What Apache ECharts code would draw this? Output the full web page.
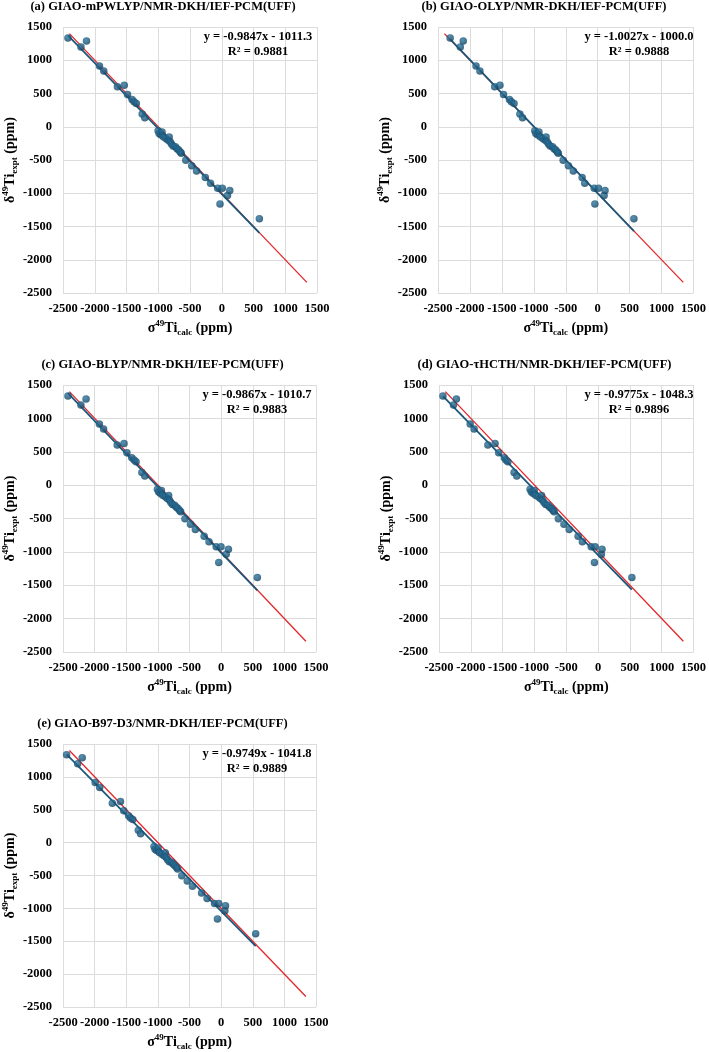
<!DOCTYPE html>
<html>
<head>
<meta charset="utf-8">
<script src="https://cdn.jsdelivr.net/npm/echarts@6/dist/echarts.min.js"></script>
<style>
  html, body { margin: 0; padding: 0; background: #fff; }
  #chart { width: 709px; height: 1052px; }
</style>
</head>
<body>
<div id="chart"></div>
<script>
// experimental 49Ti shifts, same compounds in every panel
const deltaExpt = [1335, 1200, 1290, 915, 840, 600, 625, 485, 410, 375, 350, 190, 135,
  -60, -100, -120, -80, -150, -175, -200, -155, -225, -260, -290, -300, -330, -350, -380, -400,
  -505, -585, -665, -765, -850, -925, -925, -1160, -1035, -960, -1385];

// calculated shieldings per method
const sigmaA = [-2423, -2218, -2131, -1926, -1859, -1644, -1536, -1485, -1413, -1382, -1346, -1254, -1213,
  -1003, -987, -962, -941, -921, -880, -849, -828, -813, -792, -767, -731, -705, -679, -654, -638,
  -567, -474, -397, -259, -177, -64, 8, -28, 90, 126, 592];
const sigmaB = [-2310, -2151, -2105, -1905, -1844, -1613, -1531, -1474, -1382, -1351, -1310, -1218, -1177,
  -985, -968, -943, -920, -900, -860, -828, -808, -792, -770, -745, -708, -683, -657, -632, -616,
  -541, -459, -382, -244, -203, -54, 13, -44, 100, 115, 567];
const sigmaC = [-2423, -2218, -2136, -1926, -1859, -1644, -1536, -1490, -1413, -1377, -1346, -1254, -1208,
  -1008, -990, -965, -945, -925, -884, -852, -830, -816, -795, -770, -735, -708, -683, -657, -640,
  -572, -485, -408, -269, -192, -79, -3, -38, 79, 115, 572];
const sigmaD = [-2438, -2273, -2227, -2010, -1948, -1732, -1619, -1562, -1474, -1448, -1418, -1320, -1278,
  -1068, -1050, -1025, -1004, -983, -940, -908, -888, -872, -850, -823, -786, -760, -733, -707, -690,
  -624, -536, -454, -314, -247, -108, -46, -57, 52, 62, 531];
const sigmaE = [-2444, -2269, -2197, -1992, -1921, -1721, -1592, -1541, -1464, -1433, -1397, -1310, -1274,
  -1062, -1045, -1020, -998, -978, -936, -904, -884, -868, -846, -820, -783, -757, -730, -705, -688,
  -623, -536, -454, -310, -223, -105, -38, -59, 59, 69, 546];

const panelTitles = [
  "(a) GIAO-mPWLYP/NMR-DKH/IEF-PCM(UFF)",
  "(b) GIAO-OLYP/NMR-DKH/IEF-PCM(UFF)",
  "(c) GIAO-BLYP/NMR-DKH/IEF-PCM(UFF)",
  "(d) GIAO-τHCTH/NMR-DKH/IEF-PCM(UFF)",
  "(e) GIAO-B97-D3/NMR-DKH/IEF-PCM(UFF)"
];
const fitSlope = [-0.9847, -1.0027, -0.9867, -0.9775, -0.9749];
const fitIntercept = [-1011.3, -1000.0, -1010.7, -1048.3, -1041.8];
const fitR2 = ["0.9881", "0.9888", "0.9883", "0.9896", "0.9889"];

// ideal line y = -x - 1000
const refRange = [-2400, 1340];

const sigmaAll = [sigmaA, sigmaB, sigmaC, sigmaD, sigmaE];

const layout = [
  { left: 57, top: 27, width: 260, height: 266 },
  { left: 438, top: 27, width: 260, height: 266 },
  { left: 57, top: 385, width: 259, height: 267 },
  { left: 439, top: 385, width: 259, height: 267 },
  { left: 57, top: 744, width: 259, height: 267 }
];

const serif = '"Liberation Serif", "Times New Roman", serif';
const gridColor = "#dcdcdc";
const lineBlue = "#1a577a";

const nameRich = {
  m: { fontSize: 14, fontWeight: "bold", fontFamily: serif, color: "#000", lineHeight: 18 },
  sup: { fontSize: 9, fontWeight: "bold", fontFamily: serif, color: "#000", verticalAlign: "top", lineHeight: 12 },
  sub: { fontSize: 9, fontWeight: "bold", fontFamily: serif, color: "#000", verticalAlign: "bottom", lineHeight: 10 }
};

const chart = echarts.init(document.getElementById("chart"));

const grid = [], xAxis = [], yAxis = [], series = [], graphic = [];

layout.forEach((g, i) => {
  grid.push({ left: g.left, top: g.top, width: g.width, height: g.height });

  const axisCommon = {
    gridIndex: i,
    type: "value",
    min: -2500,
    max: 1500,
    interval: 500,
    axisLine: { show: false },
    axisTick: { show: false },
    splitLine: { show: true, lineStyle: { color: gridColor, width: 1 } },
    axisLabel: {
      fontFamily: serif, fontWeight: "bold", fontSize: 12.5, color: "#000",
      formatter: v => String(v)
    }
  };

  xAxis.push({
    ...axisCommon,
    axisLabel: { ...axisCommon.axisLabel, margin: 9 },
    name: "{m|σ}{sup|49}{m|Ti}{sub|calc}{m| (ppm)}",
    nameLocation: "middle",
    nameGap: 26,
    nameTextStyle: { rich: nameRich }
  });
  yAxis.push({
    ...axisCommon,
    axisLabel: { ...axisCommon.axisLabel, margin: 11 },
    name: "{m|δ}{sup|49}{m|Ti}{sub|expt}{m| (ppm)}",
    nameLocation: "middle",
    nameGap: 42,
    nameRotate: 90,
    nameTextStyle: { rich: nameRich }
  });

  const xs = sigmaAll[i];
  const xmin = Math.min(...xs), xmax = Math.max(...xs);

  series.push({
    type: "line",
    xAxisIndex: i, yAxisIndex: i,
    data: refRange.map(x => [x, -x - 1000]),
    symbol: "none",
    lineStyle: { color: "#e3262b", width: 1.3 },
    z: 2, silent: true
  });
  series.push({
    type: "line",
    xAxisIndex: i, yAxisIndex: i,
    data: [xmin, xmax].map(x => [x, fitSlope[i] * x + fitIntercept[i]]),
    symbol: "none",
    lineStyle: { color: lineBlue, width: 1.8 },
    z: 3, silent: true
  });
  series.push({
    type: "scatter",
    xAxisIndex: i, yAxisIndex: i,
    data: xs.map((x, k) => [x, deltaExpt[k]]),
    symbolSize: 7.5,
    itemStyle: {
      color: {
        type: "radial", x: 0.4, y: 0.35, r: 0.7,
        colorStops: [{ offset: 0, color: "#2a76a2" }, { offset: 1, color: "#103f5b" }]
      }
    },
    z: 4
  });

  // panel title
  graphic.push({
    type: "text",
    x: g.left + g.width / 2 - 24,
    y: g.top - 20,
    style: {
      text: panelTitles[i],
      font: "bold 12.5px " + serif,
      fill: "#000",
      textAlign: "center",
      textVerticalAlign: "middle"
    }
  });
  // fit annotation
  const sign = fitIntercept[i] < 0 ? "-" : "+";
  graphic.push({
    type: "text",
    x: g.left + g.width - 59,
    y: g.top + 10,
    z: 10,
    style: {
      text: "y = " + fitSlope[i].toFixed(4) + "x " + sign + " " + Math.abs(fitIntercept[i]).toFixed(1),
      font: "bold 12.5px " + serif,
      fill: "#000",
      textAlign: "center",
      textVerticalAlign: "middle"
    }
  });
  graphic.push({
    type: "text",
    x: g.left + g.width - 59,
    y: g.top + 25,
    z: 10,
    style: {
      text: "R² = " + fitR2[i],
      font: "bold 12.5px " + serif,
      fill: "#000",
      textAlign: "center",
      textVerticalAlign: "middle"
    }
  });
});

chart.setOption({
  animation: false,
  backgroundColor: "#fff",
  grid, xAxis, yAxis, series, graphic
});
</script>
</body>
</html>
